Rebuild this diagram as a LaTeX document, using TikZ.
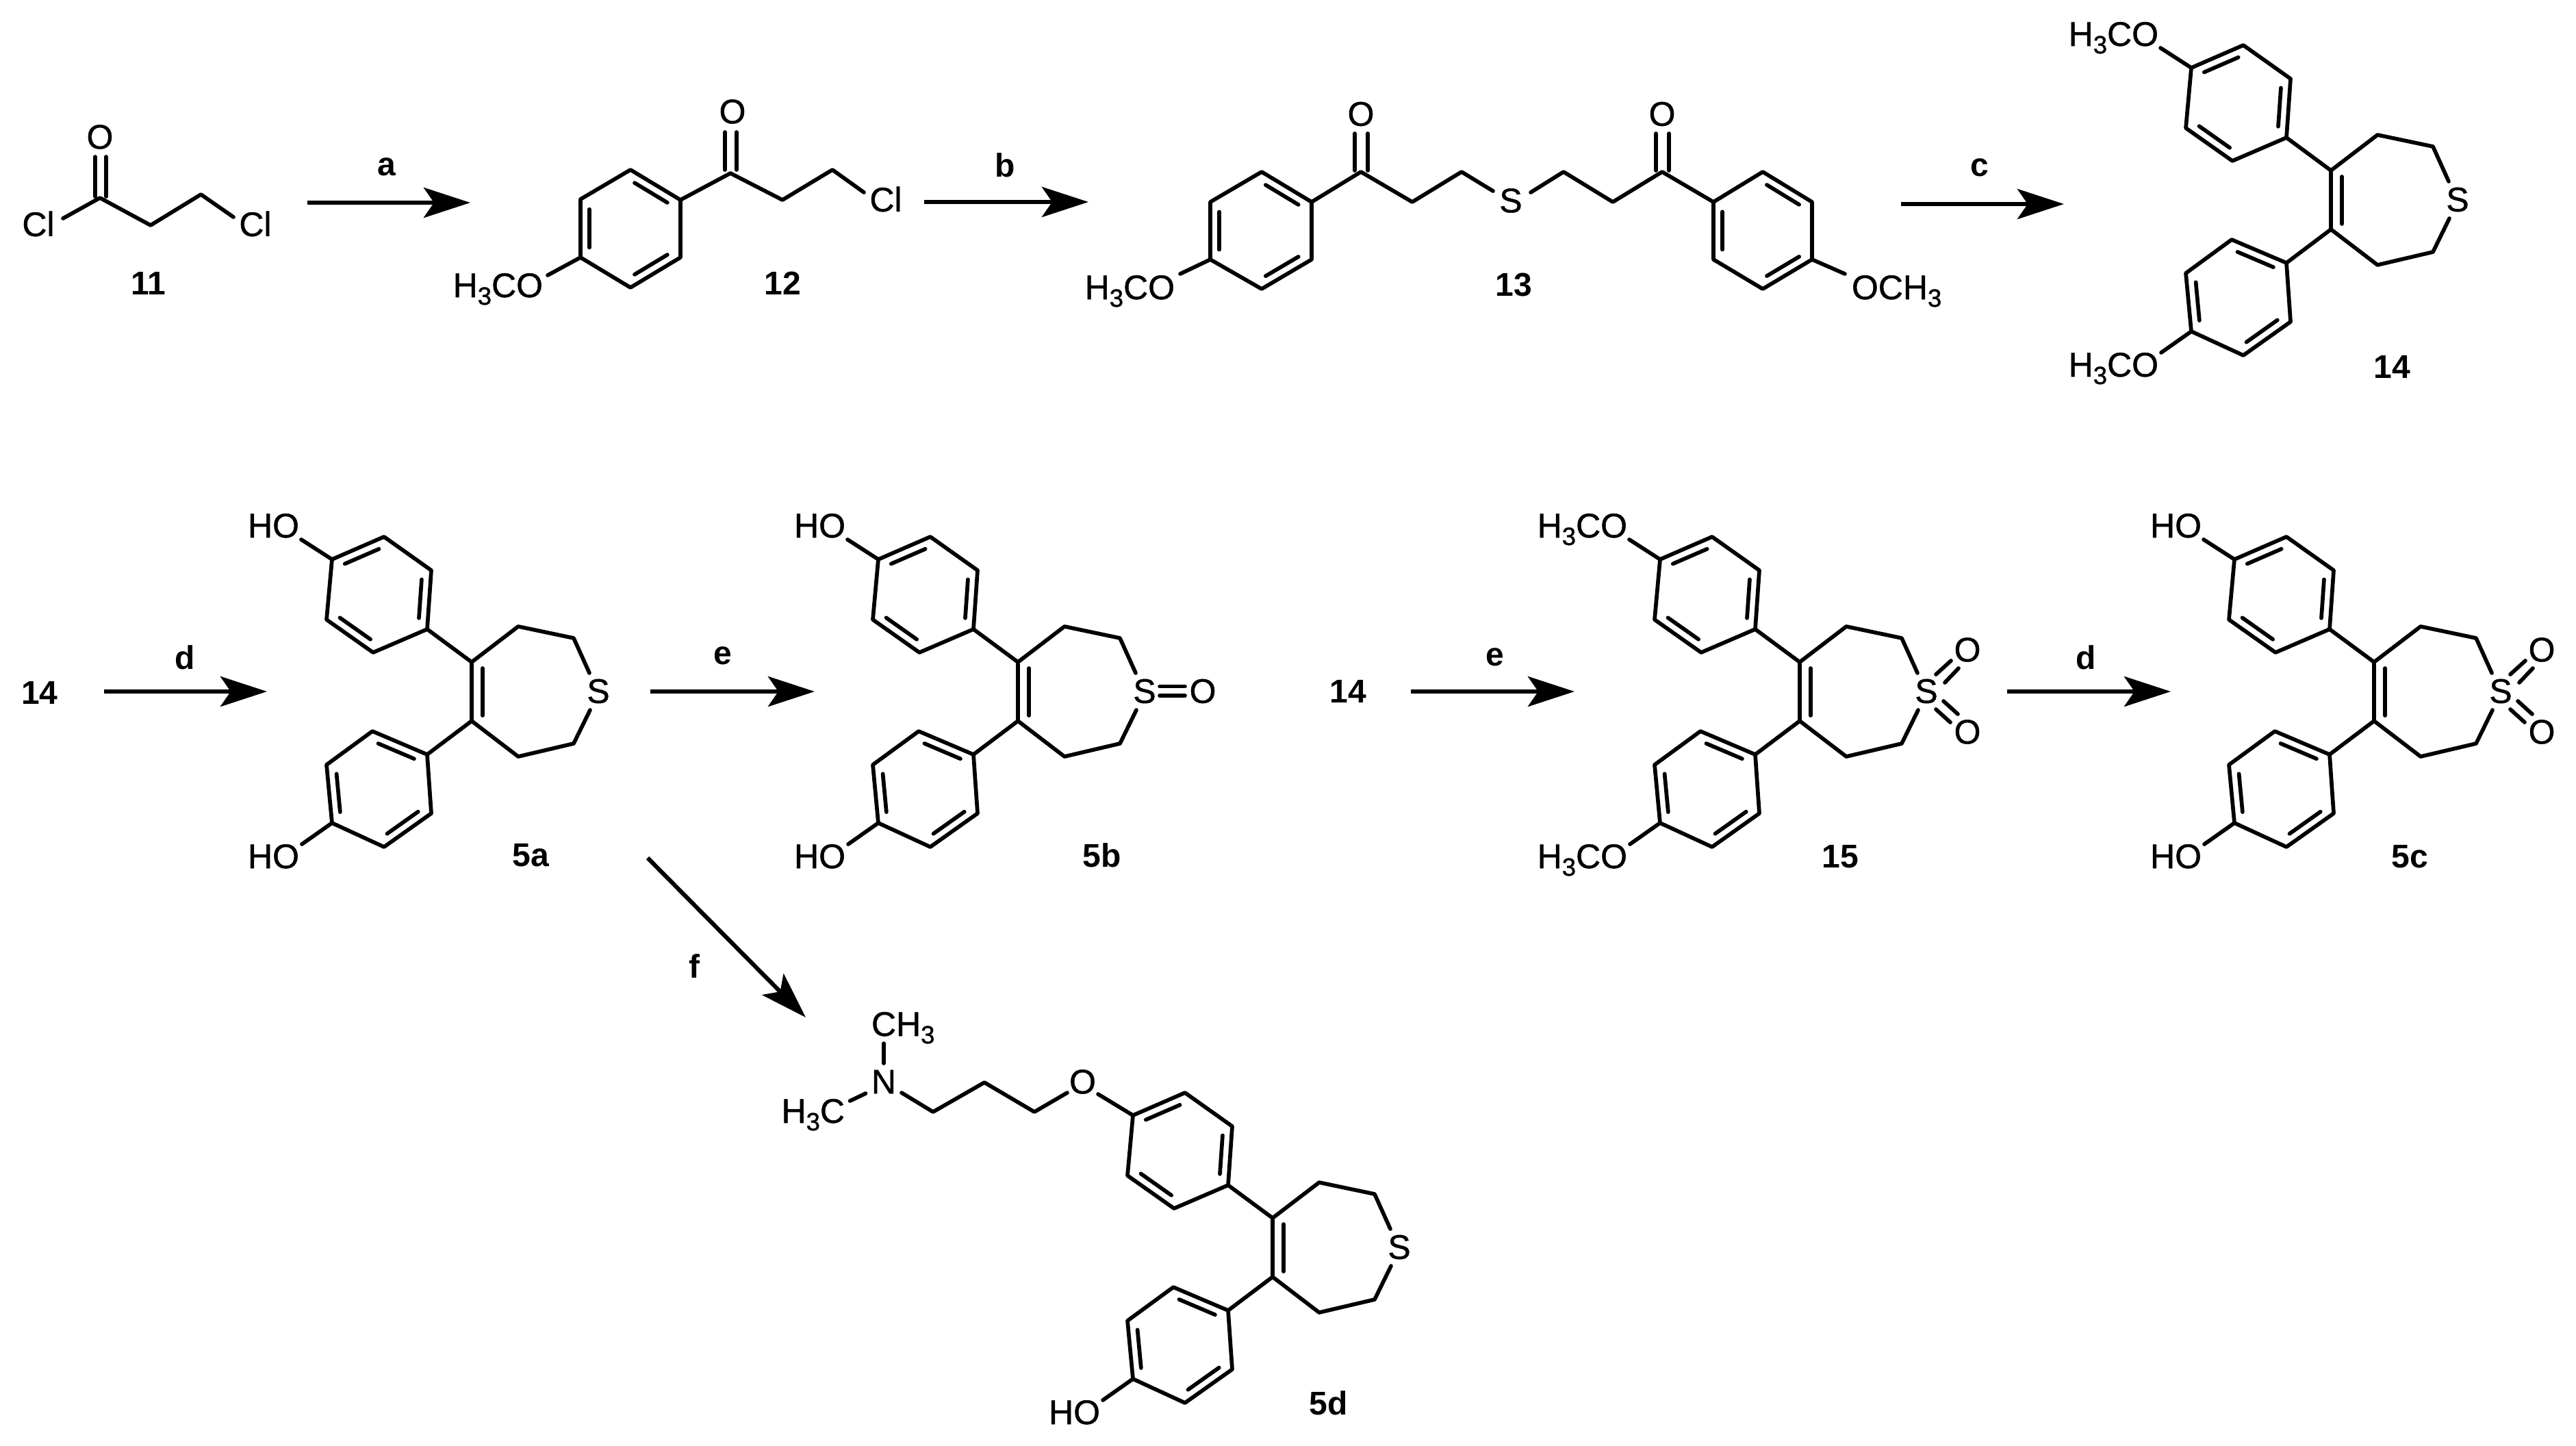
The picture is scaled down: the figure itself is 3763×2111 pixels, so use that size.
\documentclass[tikz,border=0pt]{standalone}
\usepackage{fontspec}
\setmainfont{Liberation Sans}
\newfontfamily\atomfont[FakeBold=1]{Liberation Sans}
\usetikzlibrary{arrows.meta,calc}
\newcommand{\lowdig}[1]{\raisebox{-0.22em}{\fontsize{10.4}{11}\selectfont #1}}
\newcommand{\innerbond}[3]{\draw[bond] ($($(#1)!.1!(#2)$)!.18!(#3)$) -- ($($(#2)!.1!(#1)$)!.18!(#3)$);}
% name, six vertices; the edges 1-2, 3-4 and 5-6 are the double ones
\newcommand{\hexring}[7]{%
  \coordinate (#1a) at (#2); \coordinate (#1b) at (#3); \coordinate (#1c) at (#4);
  \coordinate (#1d) at (#5); \coordinate (#1e) at (#6); \coordinate (#1f) at (#7);
  \coordinate (#1o) at ($(#1a)!.5!(#1d)$);
  \draw[bond] (#1a) -- (#1b) -- (#1c) -- (#1d) -- (#1e) -- (#1f) -- cycle;
  \innerbond{#1a}{#1b}{#1o}\innerbond{#1c}{#1d}{#1o}\innerbond{#1e}{#1f}{#1o}}
% dibenzo thiepine core
\newcommand{\thiepine}[3]{%
  \begin{scope}[shift={(#2,#3)}]
    \coordinate (#1Ca) at (0,0); \coordinate (#1Cb) at (0,86);
    \coordinate (#1r1) at (68,-52); \coordinate (#1r2) at (149,-35);
    \coordinate (#1r3) at (149,119); \coordinate (#1r4) at (68,138);
    \coordinate (#1s1) at (172,16); \coordinate (#1s2) at (173,70);
    \node[atom] (#1S) at (185,42.5) {S};
    \draw[bond] (#1Ca) -- (#1Cb);
    \draw[bond] (16,9) -- (16,78);
    \draw[bond] (#1Ca) -- (#1r1) -- (#1r2) -- (#1s1);
    \draw[bond] (#1Cb) -- (#1r4) -- (#1r3) -- (#1s2);
    \hexring{#1u}{-204,-150}{-128,-183}{-59,-134}{-65,-48}{-144,-14}{-212,-62}
    \hexring{#1l}{-65,135}{-145,101}{-212,150}{-204,235}{-128,270}{-59,221}
    \draw[bond] (#1Ca) -- (#1ud);
    \draw[bond] (#1Cb) -- (#1la);
  \end{scope}}
\newcommand{\uppersub}[4]{% name, x, y, text
  \begin{scope}[shift={(#2,#3)}]
    \coordinate (#1ou) at (-249,-179);
    \node[atom,anchor=base east] (#1Ou) at (-252,-182) {#4};
    \draw[bond] (#1ua) -- (#1ou);
  \end{scope}}
\newcommand{\lowersub}[4]{%
  \begin{scope}[shift={(#2,#3)}]
    \coordinate (#1ol) at (-248,266);
    \node[atom,anchor=base east] (#1Ol) at (-252,301) {#4};
    \draw[bond] (#1ld) -- (#1ol);
  \end{scope}}
\newcommand{\sulfone}[3]{%
  \begin{scope}[shift={(#2,#3)}]
    \node[atom] (#1Oa) at (245,-18) {O};
    \node[atom] (#1Ob) at (245,102) {O};
    \coordinate (#1p1) at (199,18); \coordinate (#1p2) at (221,-2);
    \coordinate (#1p3) at (212,30); \coordinate (#1p4) at (232,9);
    \coordinate (#1q1) at (199,69); \coordinate (#1q2) at (220,88);
    \coordinate (#1q3) at (210,57); \coordinate (#1q4) at (231,76);
    \draw[bond] (#1p1) -- (#1p2); \draw[bond] (#1p3) -- (#1p4);
    \draw[bond] (#1q1) -- (#1q2); \draw[bond] (#1q3) -- (#1q4);
  \end{scope}}
\newcommand{\rxn}[5]{% name, x1, y1, x2, y2
  \coordinate (#1s) at (#2,#3); \coordinate (#1t) at (#4,#5);
  \draw[rxnarrow] (#1s) -- (#1t);}
\tikzset{
  bond/.style={line width=1.62pt,line cap=round,line join=round,black},
  rxnarrow/.style={line width=1.75pt,black,-{Stealth[length=0.68cm,width=0.44cm,inset=0.15cm]}},
  atom/.style={inner sep=0pt,outer sep=0pt,font=\atomfont\fontsize{14.2}{16}\selectfont},
  tag/.style={inner sep=0pt,outer sep=0pt,font=\fontsize{13.66}{16}\selectfont\bfseries},
}
\begin{document}
\begin{tikzpicture}[x=0.01cm,y=-0.01cm]
\fill[white] (0,0) rectangle (3763,2111);
\useasboundingbox (0,0) rectangle (3763,2111);

% ---------- 11
\node[atom] (O11) at (146,200) {O};
\node[atom] (ClA) at (56,327) {Cl};
\node[atom] (ClB) at (373,327) {Cl};
\coordinate (c11) at (146,289); \coordinate (c11b) at (220,329); \coordinate (c11c) at (293.5,284);
\coordinate (c11d) at (92,319); \coordinate (c11e) at (341,317);
\draw[bond] (c11d) -- (c11) -- (c11b) -- (c11c) -- (c11e);
\draw[bond] (139,229) -- (139,287); \draw[bond] (155,229) -- (155,287);
\node[tag] (L11) at (217,414) {11};

% ---------- 12
\node[atom] (O12) at (1070,163) {O};
\node[atom] (Cl12) at (1294,291) {Cl};
\node[tag] (L12) at (1143,414) {12};
\hexring{A}{994,292}{921,248}{848,291}{848,376}{921,420}{994,376}
\coordinate (c12) at (1067,253); \coordinate (c12b) at (1143,292); \coordinate (c12c) at (1216,248); \coordinate (c12d) at (1262,281);
\draw[bond] (Aa) -- (c12) -- (c12b) -- (c12c) -- (c12d);
\draw[bond] (1059,193) -- (1059,248); \draw[bond] (1076,193) -- (1076,248);
\coordinate (o12) at (800,402);
\node[atom,anchor=base east] (OMe12) at (793,434) {H\lowdig{3}CO};
\draw[bond] (Ad) -- (o12);

% ---------- 13
\hexring{B}{1916,295}{1843,251}{1768,295}{1768,379}{1843,422}{1916,379}
\hexring{C}{2575,251}{2647,295}{2647,379}{2575,422}{2503,379}{2503,295}
\node[atom] (O13a) at (1988,166.5) {O};
\node[atom] (O13b) at (2428,166.5) {O};
\node[atom] (S13) at (2207,293) {S};
\coordinate (c13a) at (1988,251); \coordinate (c13b) at (2063,295); \coordinate (c13c) at (2135,251); \coordinate (c13d) at (2181,279);
\coordinate (c13e) at (2236,281); \coordinate (c13f) at (2284,251); \coordinate (c13g) at (2356,295); \coordinate (c13h) at (2428,251);
\draw[bond] (Ba) -- (c13a) -- (c13b) -- (c13c) -- (c13d);
\draw[bond] (c13e) -- (c13f) -- (c13g) -- (c13h) -- (Cf);
\draw[bond] (1979,195) -- (1979,249); \draw[bond] (1998,195) -- (1998,249);
\draw[bond] (2419,195) -- (2419,249); \draw[bond] (2438,195) -- (2438,249);
\coordinate (o13a) at (1724,400); \coordinate (o13b) at (2695,400);
\node[atom,anchor=base east] (OMe13a) at (1716,437) {H\lowdig{3}CO};
\node[atom,anchor=base west] (OMe13b) at (2705,437) {OCH\lowdig{3}};
\draw[bond] (Bd) -- (o13a); \draw[bond] (Cc) -- (o13b);
\node[tag] (L13) at (2211,416) {13};

% ---------- 14
\thiepine{m}{3405}{249}
\uppersub{m}{3405}{249}{H\lowdig{3}CO}
\lowersub{m}{3405}{249}{H\lowdig{3}CO}
\node[tag] (L14) at (3494,536) {14};

% ---------- 5a
\thiepine{n}{689}{967}
\uppersub{n}{689}{967}{HO}
\lowersub{n}{689}{967}{HO}
\node[tag] (L5a) at (775,1249) {5a};

% ---------- 5b
\thiepine{p}{1487}{967}
\uppersub{p}{1487}{967}{HO}
\lowersub{p}{1487}{967}{HO}
\node[atom] (pO) at (1757,1009.5) {O};
\draw[bond] (1694,1002.6) -- (1731,1002.6);
\draw[bond] (1694,1016) -- (1731,1016);
\node[tag] (L5b) at (1610,1249) {5b};

% ---------- 15
\thiepine{q}{2629}{967}
\uppersub{q}{2629}{967}{H\lowdig{3}CO}
\lowersub{q}{2629}{967}{H\lowdig{3}CO}
\sulfone{q}{2629}{967}
\node[tag] (L15) at (2688,1251) {15};

% ---------- 5c
\thiepine{r}{3468}{967}
\uppersub{r}{3468}{967}{HO}
\lowersub{r}{3468}{967}{HO}
\sulfone{r}{3468}{967}
\node[tag] (L5c) at (3520,1251) {5c};

% ---------- 5d
\thiepine{t}{1859}{1779}
\lowersub{t}{1859}{1779}{HO}
\node[atom] (O5d) at (1581.5,1580) {O};
\node[atom] (N5d) at (1291,1580) {N};
\node[atom,anchor=base west] (Me5d) at (1273,1513) {CH\lowdig{3}};
\node[atom,anchor=base east] (Mf5d) at (1234,1640) {H\lowdig{3}C};
\coordinate (d1) at (1604,1598); \coordinate (d2) at (1559,1596); \coordinate (d3) at (1511,1624);
\coordinate (d4) at (1438,1581); \coordinate (d5) at (1363,1624); \coordinate (d6) at (1317,1596);
\coordinate (d7) at (1291,1553); \coordinate (d8) at (1291,1524);
\coordinate (d9) at (1264.5,1597); \coordinate (d10) at (1241.6,1608);
\draw[bond] (tua) -- (d1);
\draw[bond] (d2) -- (d3) -- (d4) -- (d5) -- (d6);
\draw[bond] (d7) -- (d8);
\draw[bond] (d9) -- (d10);
\node[tag] (L5d) at (1941,2049) {5d};

% ---------- second-row "14" starting labels
\node[tag] (S14a) at (58,1012) {14};
\node[tag] (S14b) at (1969,1010) {14};

% ---------- reaction arrows
\rxn{ra}{449}{296}{687}{296}
\rxn{rb}{1350}{295}{1590}{295}
\rxn{rc}{2777}{298}{3015}{298}
\rxn{rd}{152}{1010}{390}{1010}
\rxn{re}{950}{1010}{1190}{1010}
\rxn{rg}{2061}{1010}{2300}{1010}
\rxn{rh}{2932}{1010}{3171}{1010}
\rxn{rf}{946}{1253}{1177}{1486}
\node[tag] at (565,244) (la) {a};
\node[tag] at (1468,241) (lb) {b};
\node[tag] at (2892,245) (lc) {c};
\node[tag] at (270,960) (ld) {d};
\node[tag] at (1056,958) (le) {e};
\node[tag] at (2184,960) (lg) {e};
\node[tag] at (3047,960) (lh) {d};
\node[tag] at (1014,1411) (lf) {f};
\end{tikzpicture}
\end{document}
